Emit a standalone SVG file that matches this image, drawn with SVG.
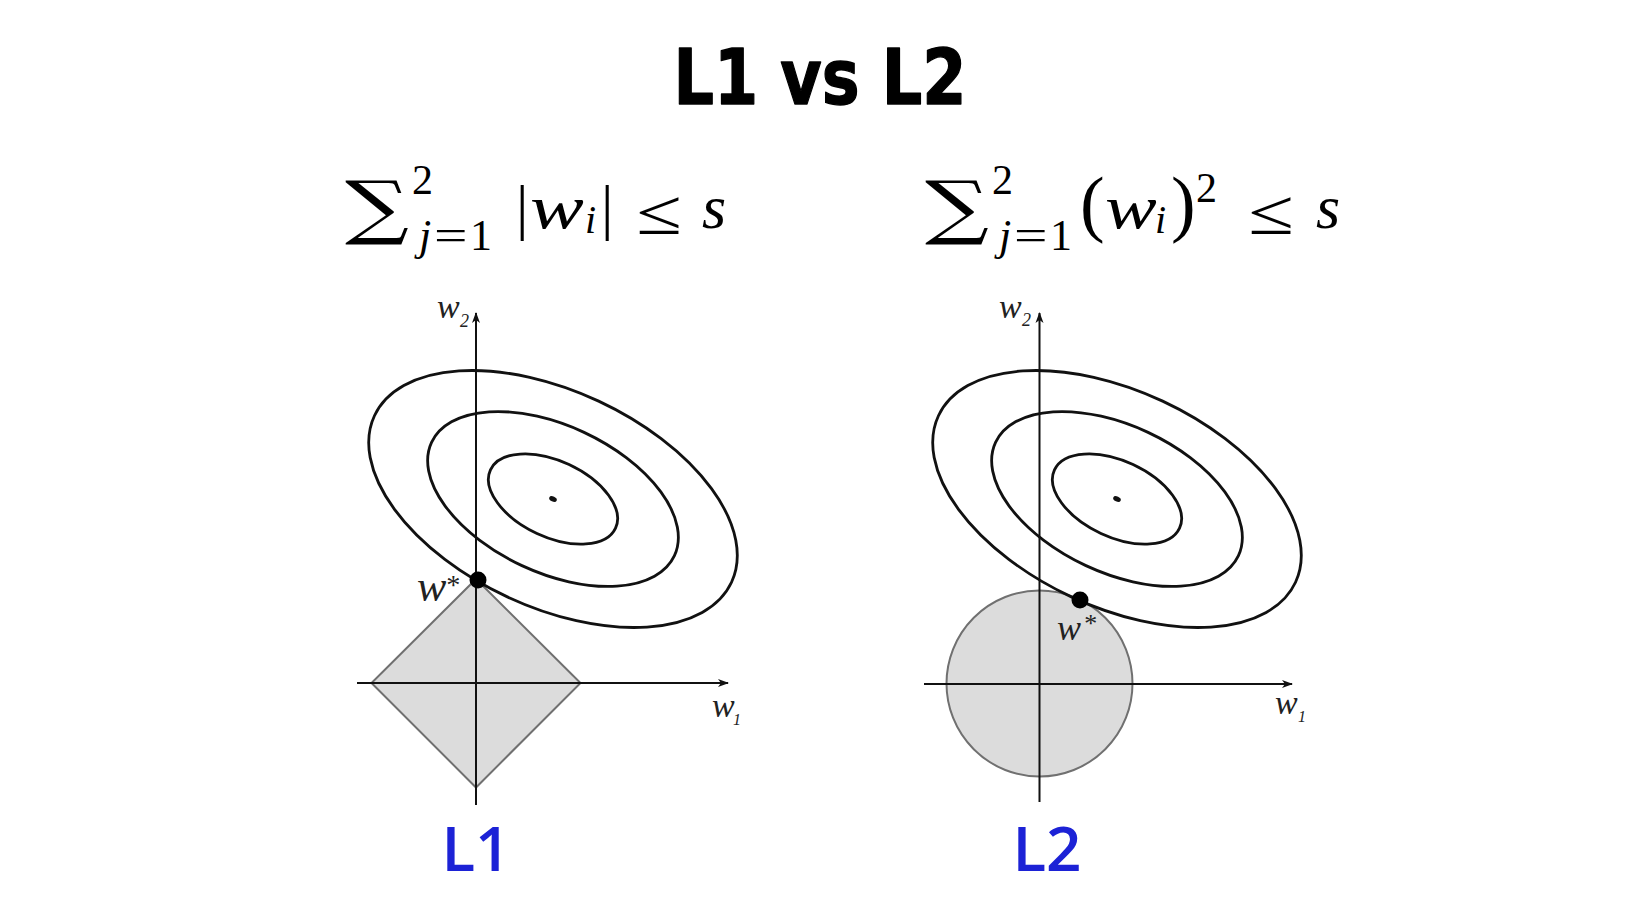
<svg xmlns="http://www.w3.org/2000/svg" width="1640" height="906" viewBox="0 0 1640 906">
<defs>
<style>
.title{font-family:"DejaVu Sans",Verdana,sans-serif;font-weight:bold;font-size:77px;fill:#000;stroke:#000;stroke-width:1.4;stroke-linejoin:round}
.m{font-family:"Liberation Serif","Times New Roman",serif;fill:#000}
.it{font-style:italic}
.sum{font-family:"DejaVu Serif",serif;fill:#000}
.ax{stroke:#111;stroke-width:2;fill:none}
.ell{stroke:#111;stroke-width:2.8;fill:none}
.region{fill:#dcdcdc;stroke:#707070;stroke-width:2}
.lab{font-family:"Liberation Serif","Times New Roman",serif;font-style:italic;fill:#222}
.big{font-family:"Open Sans","Liberation Sans",sans-serif;font-weight:600;font-size:62px;fill:#1c22d6;text-anchor:middle}
</style>
<marker id="arr" markerUnits="userSpaceOnUse" markerWidth="12" markerHeight="10" refX="10" refY="5" orient="auto">
<path d="M0,1 L11,5 L0,9 L3,5 z" fill="#111"/>
</marker>
</defs>
<rect width="1640" height="906" fill="#fff"/>

<g id="title"><text class="title" x="820" y="104" text-anchor="middle" textLength="293" lengthAdjust="spacingAndGlyphs">L1 vs L2</text></g>

<g id="formula-l1">
<text class="sum" transform="translate(345,231) scale(1.28,1)" font-size="70">∑</text>
<text class="m" x="412" y="194" font-size="42">2</text>
<text class="m it" x="419" y="250" font-size="44">j</text>
<text class="m" transform="translate(434,250) scale(1.35,1)" font-size="44">=</text>
<text class="m" x="470" y="250" font-size="44">1</text>
<text class="m" x="516" y="228" font-size="62">|</text>
<text class="m it" transform="translate(530,228) scale(1.3,1)" font-size="62">w</text>
<text class="m it" x="585" y="233" font-size="40">i</text>
<text class="m" x="601" y="228" font-size="62">|</text>
<text class="m" transform="translate(636,234) scale(1.3,1)" font-size="64">≤</text>
<text class="m it" x="702" y="228" font-size="62">s</text>
</g>

<g id="formula-l2">
<text class="sum" transform="translate(925,231) scale(1.28,1)" font-size="70">∑</text>
<text class="m" x="992" y="194" font-size="42">2</text>
<text class="m it" x="999" y="250" font-size="44">j</text>
<text class="m" transform="translate(1014,250) scale(1.35,1)" font-size="44">=</text>
<text class="m" x="1050" y="250" font-size="44">1</text>
<text class="m" x="1080" y="228" font-size="74">(</text>
<text class="m it" transform="translate(1105,228) scale(1.25,1)" font-size="62">w</text>
<text class="m it" x="1155" y="233" font-size="40">i</text>
<text class="m" x="1171" y="228" font-size="74">)</text>
<text class="m" x="1196" y="202" font-size="42">2</text>
<text class="m" transform="translate(1248,234) scale(1.3,1)" font-size="64">≤</text>
<text class="m it" x="1316" y="228" font-size="62">s</text>
</g>

<g id="plot-l1">
<polygon class="region" points="476,579 580.5,683 476,787.5 371.5,683"/>
<ellipse class="ell" cx="553" cy="499" rx="197" ry="108" transform="rotate(25 553 499)"/>
<ellipse class="ell" cx="553" cy="499" rx="134" ry="73.5" transform="rotate(25 553 499)"/>
<ellipse class="ell" cx="553" cy="499" rx="69" ry="38" transform="rotate(25 553 499)"/>
<ellipse cx="553" cy="499" rx="4" ry="2.6" transform="rotate(25 553 499)" fill="#111"/>
<text class="lab" x="437" y="318" font-size="34">w</text>
<text class="lab" x="460" y="327" font-size="18">2</text>
<text class="lab" x="712" y="717" font-size="34">w</text>
<text class="lab" x="733" y="725" font-size="16">1</text>
<text class="lab" x="417" y="601" font-size="44">w</text>
<text class="lab" x="445" y="594" font-size="28">*</text>
</g>

<g id="plot-l2">
<circle class="region" cx="1039.5" cy="683.5" r="93"/>
<ellipse class="ell" cx="1117" cy="499" rx="197" ry="108" transform="rotate(25 1117 499)"/>
<ellipse class="ell" cx="1117" cy="499" rx="134" ry="73.5" transform="rotate(25 1117 499)"/>
<ellipse class="ell" cx="1117" cy="499" rx="69" ry="38" transform="rotate(25 1117 499)"/>
<ellipse cx="1117" cy="499" rx="4" ry="2.6" transform="rotate(25 1117 499)" fill="#111"/>
<text class="lab" x="999" y="318" font-size="34">w</text>
<text class="lab" x="1022" y="326" font-size="18">2</text>
<text class="lab" x="1275" y="714" font-size="34">w</text>
<text class="lab" x="1298" y="722" font-size="16">1</text>
<text class="lab" x="1057" y="640" font-size="36">w</text>
<text class="lab" x="1083" y="632" font-size="26">*</text>
</g>

<g id="connectors">
<line class="ax" x1="476" y1="805" x2="476" y2="313" marker-end="url(#arr)"/>
<line class="ax" x1="357" y1="683" x2="728" y2="683" marker-end="url(#arr)"/>
<line class="ax" x1="1039.5" y1="802" x2="1039.5" y2="313" marker-end="url(#arr)"/>
<line class="ax" x1="924" y1="684" x2="1292" y2="684" marker-end="url(#arr)"/>
</g>

<g id="optima">
<circle cx="478" cy="580" r="8.5" fill="#000"/>
<circle cx="1080" cy="600" r="8.5" fill="#000"/>
</g>

<g id="labels">
<text class="big" x="476" y="871">L1</text>
<text class="big" x="1047" y="871">L2</text>
</g>
</svg>
